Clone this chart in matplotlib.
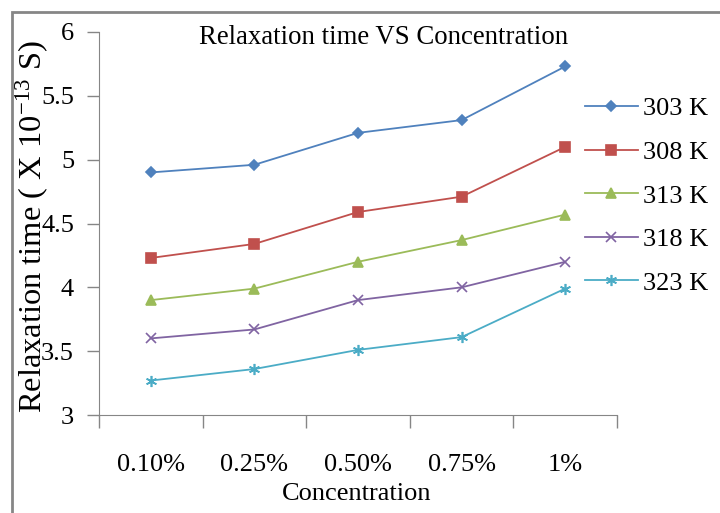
import matplotlib.pyplot as plt
from matplotlib.patches import Rectangle

# data
concentrations = ["0.10%", "0.25%", "0.50%", "0.75%", "1%"]
temps = ["303 K", "308 K", "313 K", "318 K", "323 K"]
t303 = [4.90, 4.96, 5.21, 5.31, 5.73]
t308 = [4.23, 4.34, 4.59, 4.71, 5.10]
t313 = [3.90, 3.99, 4.20, 4.37, 4.57]
t318 = [3.60, 3.67, 3.90, 4.00, 4.20]
t323 = [3.27, 3.36, 3.51, 3.61, 3.99]
series = [t303, t308, t313, t318, t323]

colors = ["#4F81BD", "#C0504D", "#9BBB59", "#8064A2", "#4BACC6"]
markers = ["D", "s", "^", "x", (6, 2, 0)]
msizes = [5, 7, 7, 7, 8]

serif = ["Liberation Serif", "DejaVu Serif"]
plt.rcParams["font.family"] = serif
plt.rcParams["mathtext.fontset"] = "stix"

W, H = 720, 513
fig = plt.figure(figsize=(W / 100, H / 100), dpi=100)
ax = fig.add_axes([99 / W, 1 - 415 / H, (617 - 99) / W, (415 - 32) / H])

x = list(range(len(concentrations)))
for vals, lab, c, m, ms in zip(series, temps, colors, markers, msizes):
    ax.plot(x, vals, color=c, marker=m, markersize=ms, linewidth=1.3,
            markeredgewidth=1.2, label=lab)

ax.set_xlim(-0.5, len(concentrations) - 0.5)
ax.set_ylim(3, 6)
ax.set_yticks([3, 3.5, 4, 4.5, 5, 5.5, 6])
ax.set_yticklabels(["3", "3.5", "4", "4.5", "5", "5.5", "6"], family=serif)
ax.set_xticks([i - 0.5 for i in range(len(concentrations) + 1)])
ax.set_xticklabels([])
ax.set_xticks(x, minor=True)
ax.set_xticklabels(concentrations, minor=True, family=serif)

gray = "#868686"
for s in ["top", "right"]:
    ax.spines[s].set_visible(False)
for s in ["left", "bottom"]:
    ax.spines[s].set_color(gray)
ax.tick_params(axis="both", which="major", color=gray, length=9, width=1,
               labelsize=19, pad=9)
ax.tick_params(axis="x", which="minor", length=0, labelsize=19, pad=28)

fig.text(384 / W, 1 - 38 / H, "Relaxation time VS Concentration",
         ha="center", va="center", fontsize=19.3)
fig.text(357 / W, 1 - 494 / H, "Concentration", ha="center", va="center",
         fontsize=19)
fig.text(32 / W, 1 - 226 / H, r"Relaxation time ( X 10$^{\mathregular{-13}}$ S)",
         ha="center", va="center", rotation=90, fontsize=23.4)

ax.legend(loc="upper left", bbox_to_anchor=(585 / W, 1 - 97 / H),
          bbox_transform=fig.transFigure, frameon=False, fontsize=19,
          handlelength=2.0, handletextpad=0.2, labelspacing=0.76,
          borderpad=0, borderaxespad=0)

# outer chart border
fig.patches.append(Rectangle((12 / W, -0.1), 1.2, 1 - 12 / H + 0.1,
                             transform=fig.transFigure, fill=False,
                             edgecolor=gray, linewidth=2))

fig.savefig("out.png", dpi=100)
